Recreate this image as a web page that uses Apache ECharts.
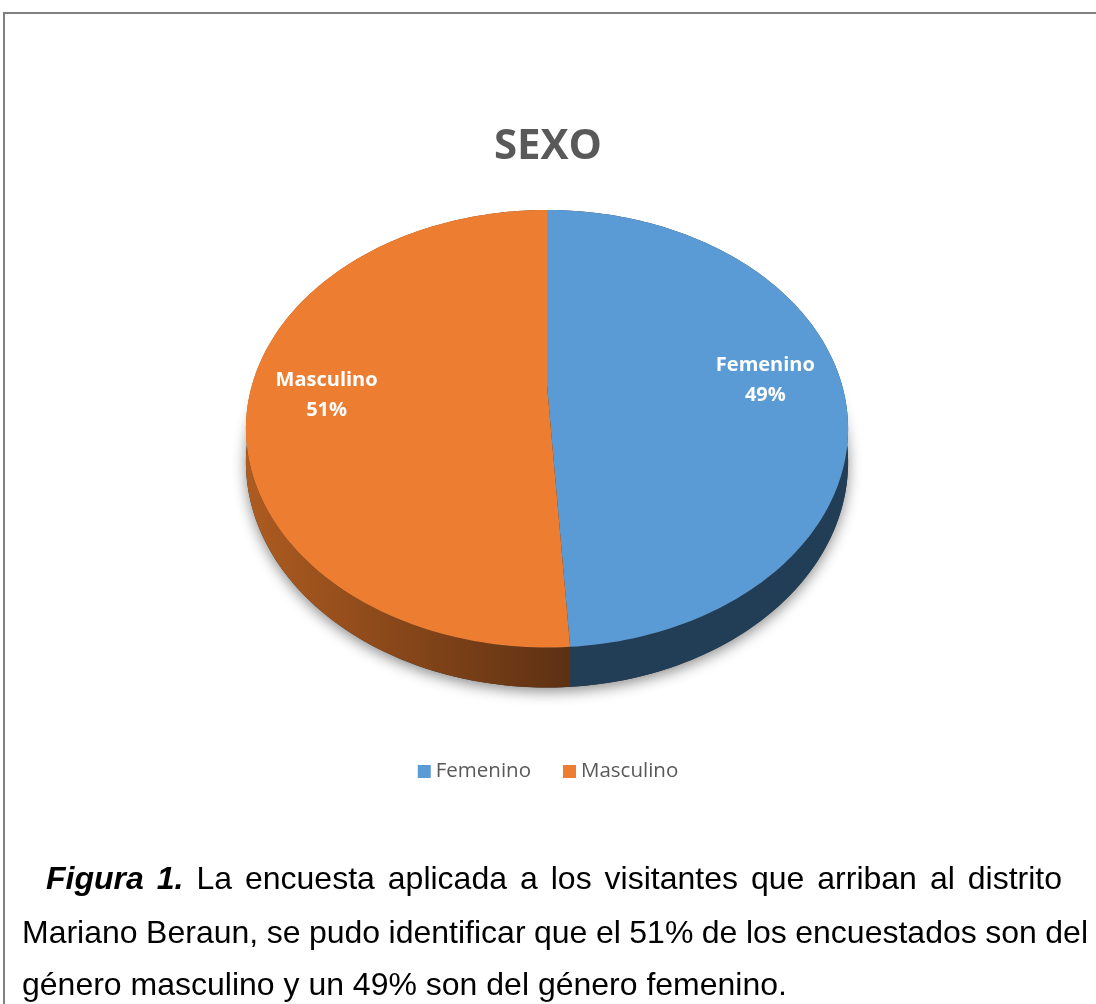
<!DOCTYPE html>
<html>
<head>
<meta charset="utf-8">
<script src="https://cdn.jsdelivr.net/npm/echarts@6/dist/echarts.min.js"></script>
<style>
  html, body { margin: 0; padding: 0; background: #fff; }
  #main { width: 1096px; height: 1004px; }
</style>
</head>
<body>
<div id="main"></div>
<script>
// datos del grafico
var categories = ['Femenino', 'Masculino'];
var values = [49, 51];
var sliceColors = ['#5b9bd5', '#ed7d31'];

// texto de la figura
var captionLead = ['Figura', '1.'];
var captionLine1 = ['La', 'encuesta', 'aplicada', 'a', 'los', 'visitantes', 'que', 'arriban', 'al', 'distrito'];
var captionLine2 = ['Mariano', 'Beraun,', 'se', 'pudo', 'identificar', 'que', 'el', '51%', 'de', 'los', 'encuestados', 'son', 'del'];
var captionLine3 = 'género masculino y un 49% son del género femenino.';

var total = values.reduce(function (s, v) { return s + v; }, 0);

// proyeccion del pastel 3D (perspectiva simple)
var CX = 547, CY = 385, A = 295, B = 210, K = 0.2, DEPTH = 32;
function proj(theta, r, down) {
    var u = r * Math.sin(theta), v = -r * Math.cos(theta);
    var q = 1 - K * v;
    return [CX + A * u / q, CY + (B * v + (down || 0)) / q];
}

var wallFill = [
    '#223e57',
    { type: 'linear', x: 250, y: 0, x2: 580, y2: 0, global: true,
      colorStops: [{ offset: 0, color: '#ad5b20' }, { offset: 1, color: '#5b2f12' }] }
];

function renderSlice(params, api) {
    var i = params.seriesIndex;
    var val = api.value(0), start = api.value(1);
    var a0 = start / total * Math.PI * 2;
    var a1 = (start + val) / total * Math.PI * 2;
    var n = 160, topArc = [], botArc = [];
    for (var s = 0; s <= n; s++) {
        var t = a0 + (a1 - a0) * s / n;
        topArc.push(proj(t, 1, 0));
        botArc.push(proj(t, 1, DEPTH));
    }
    var children = [];
    if (i === 0) {
        // sombra bajo el pastel
        var sil = [];
        for (var s2 = 0; s2 <= 240; s2++) sil.push(proj(Math.PI * 2 * s2 / 240, 1, DEPTH));
        children.push({
            type: 'polygon', z2: 0, shape: { points: sil },
            style: { fill: '#333', shadowBlur: 14, shadowColor: 'rgba(0,0,0,0.45)', shadowOffsetY: 4 }
        });
    }
    children.push({
        type: 'polygon', z2: 1,
        shape: { points: topArc.concat(botArc.slice().reverse()) },
        style: { fill: wallFill[i] }
    });
    children.push({
        type: 'polygon', z2: 5,
        shape: { points: [proj(0, 0, 0)].concat(topArc) },
        style: { fill: api.visual('color') }
    });
    var mid = (a0 + a1) / 2;
    var lp = proj(mid, 0.744, i === 0 ? 0 : 5);
    children.push({
        type: 'text', z2: 10, x: lp[0], y: lp[1],
        style: {
            text: categories[i] + '\n' + Math.round(val / total * 100) + '%',
            fill: '#fff', font: 'bold 20px "Open Sans"', lineHeight: 30,
            align: 'center', verticalAlign: 'middle'
        }
    });
    return { type: 'group', children: children };
}

var cum = 0;
var series = categories.map(function (name, i) {
    var item = { name: name, value: [values[i], cum] };
    cum += values[i];
    return {
        type: 'custom', name: name, coordinateSystem: 'none',
        renderItem: renderSlice, data: [item]
    };
});

// texto justificado con medida real
var ctx = document.createElement('canvas').getContext('2d');
var FONT = '32px "Liberation Sans"';
var FONT_B = 'italic bold 32px "Liberation Sans"';
function measure(t, f) { ctx.font = f; return ctx.measureText(t).width; }

function justify(words, x0, x1, baseline) {
    var widths = words.map(function (w) { return measure(w.t, w.f); });
    var sum = widths.reduce(function (s, v) { return s + v; }, 0);
    var gap = (x1 - x0 - sum) / (words.length - 1);
    var x = x0, out = [];
    words.forEach(function (w, k) {
        out.push({
            type: 'text', x: x, y: baseline,
            style: { text: w.t, font: w.f, fill: '#000', verticalAlign: 'bottom', align: 'left' }
        });
        x += widths[k] + gap;
    });
    return out;
}

var l1 = captionLead.map(function (t) { return { t: t, f: FONT_B }; })
    .concat(captionLine1.map(function (t) { return { t: t, f: FONT }; }));
var l2 = captionLine2.map(function (t) { return { t: t, f: FONT }; });

var graphics = [{
    type: 'rect', shape: { x: 4, y: 13, width: 1200, height: 1100 },
    style: { fill: 'none', stroke: '#808080', lineWidth: 2 }
}];
graphics = graphics.concat(justify(l1, 46, 1062, 896));
graphics = graphics.concat(justify(l2, 22, 1088, 950));
graphics.push({
    type: 'text', x: 22, y: 1002,
    style: { text: captionLine3, font: FONT, fill: '#000', verticalAlign: 'bottom', align: 'left' }
});

var chart = echarts.init(document.getElementById('main'));
chart.setOption({
    animation: false,
    backgroundColor: '#fff',
    color: sliceColors,
    title: {
        text: 'SEXO', left: 'center', top: 121,
        textStyle: { fontFamily: 'Open Sans', fontWeight: 'bold', fontSize: 42, color: '#595959' }
    },
    legend: {
        data: categories, left: 'center', top: 756,
        icon: 'rect', itemWidth: 13, itemHeight: 13, itemGap: 32,
        textStyle: { fontFamily: 'Open Sans', fontSize: 20.5, color: '#595959' }
    },
    graphic: graphics,
    series: series
});
</script>
</body>
</html>
